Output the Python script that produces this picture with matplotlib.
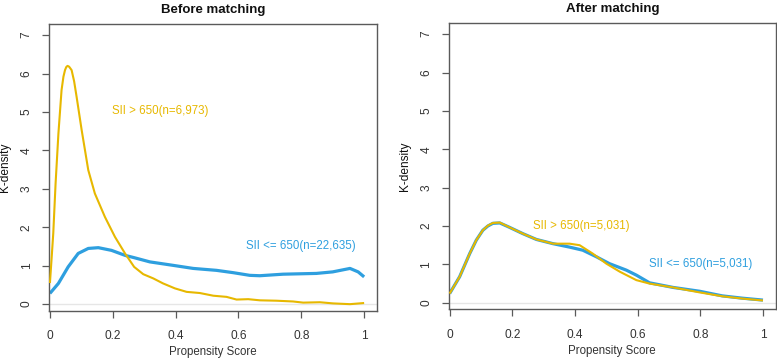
import matplotlib
matplotlib.use("Agg")
import matplotlib.pyplot as plt

plt.rcParams['font.family'] = ['Liberation Sans', 'DejaVu Sans']

YEL = "#E7B800"
BLU = "#2E9FDF"

# ---- Before matching ----
before_hi_x = [0.0, 0.005, 0.0106, 0.018, 0.027, 0.037, 0.043, 0.048, 0.052, 0.056, 0.061,
               0.069, 0.077, 0.085, 0.101, 0.122, 0.143, 0.175, 0.207, 0.239, 0.268,
               0.297, 0.329, 0.36, 0.398, 0.435, 0.477, 0.52, 0.562, 0.594, 0.631, 0.668,
               0.721, 0.774, 0.806, 0.859, 0.901, 0.955, 1.0]
before_hi_y = [0.55, 1.15, 1.84, 3.14, 4.44, 5.57, 5.92, 6.09, 6.17, 6.2, 6.18,
               6.09, 5.8, 5.39, 4.53, 3.49, 2.88, 2.27, 1.75, 1.32, 0.97,
               0.78, 0.67, 0.54, 0.41, 0.32, 0.29, 0.22, 0.19, 0.12, 0.13, 0.10,
               0.09, 0.07, 0.04, 0.05, 0.02, 0.0, 0.03]

before_lo_x = [0.0, 0.027, 0.058, 0.09, 0.122, 0.154, 0.196, 0.239, 0.268, 0.318, 0.392,
               0.456, 0.53, 0.583, 0.636, 0.668, 0.742, 0.848, 0.90, 0.955, 0.981, 1.0]
before_lo_y = [0.28, 0.54, 0.97, 1.32, 1.45, 1.47, 1.40, 1.27, 1.21, 1.10, 1.01,
               0.93, 0.88, 0.82, 0.75, 0.74, 0.78, 0.80, 0.84, 0.93, 0.84, 0.71]

# ---- After matching ----
after_hi_x = [0.0, 0.032, 0.064, 0.085, 0.106, 0.122, 0.138, 0.16, 0.19, 0.234, 0.277, 0.33,
              0.383, 0.415, 0.457, 0.5, 0.543, 0.596, 0.638, 0.713, 0.798, 0.87, 0.934, 1.0]
after_hi_y = [0.24, 0.68, 1.28, 1.63, 1.89, 2.01, 2.08, 2.09, 1.97, 1.80, 1.65, 1.54,
              1.54, 1.50, 1.28, 1.02, 0.81, 0.59, 0.50, 0.40, 0.27, 0.17, 0.11, 0.06]

after_lo_x = [0.0, 0.032, 0.064, 0.085, 0.106, 0.122, 0.138, 0.16, 0.19, 0.234, 0.277, 0.33,
              0.383, 0.425, 0.468, 0.51, 0.564, 0.596, 0.638, 0.713, 0.798, 0.87, 0.934, 1.0]
after_lo_y = [0.24, 0.68, 1.28, 1.63, 1.89, 2.00, 2.07, 2.08, 1.97, 1.80, 1.65, 1.54,
              1.45, 1.37, 1.20, 1.02, 0.85, 0.72, 0.52, 0.40, 0.30, 0.18, 0.12, 0.07]

x_ticks = [0, 0.2, 0.4, 0.6, 0.8, 1]
x_ticklabels = ["0", "0.2", "0.4", "0.6", "0.8", "1"]
y_ticks = [0, 1, 2, 3, 4, 5, 6, 7]

W, H = 777, 360
fig = plt.figure(figsize=(W / 100, H / 100), dpi=100)

panels = [
    dict(rect=(49.3, 24.0, 376.7, 310.7), title="Before matching",
         hi=(before_hi_x, before_hi_y), lo=(before_lo_x, before_lo_y),
         hi_lab=("SII > 650(n=6,973)", 0.35, 5.02),
         lo_lab=("SII <= 650(n=22,635)", 0.80, 1.52)),
    dict(rect=(449.0, 23.0, 775.5, 309.3), title="After matching",
         hi=(after_hi_x, after_hi_y), lo=(after_lo_x, after_lo_y),
         hi_lab=("SII > 650(n=5,031)", 0.42, 2.01),
         lo_lab=("SII <= 650(n=5,031)", 0.80, 1.00)),
]

BOX = "#5a5a5a"
TXT = "#333333"

for p in panels:
    l, t, r, b = p["rect"]
    ax = fig.add_axes([l / W, 1 - b / H, (r - l) / W, (b - t) / H])
    ax.set_xlim(-0.002, 1.04)
    ax.set_ylim(-0.17, 7.29)
    ax.axhline(0, color="#e6e6e6", lw=1.0, zorder=1)
    ax.plot(*p["lo"], color=BLU, lw=2.3, zorder=2, solid_capstyle="butt", solid_joinstyle="round")
    ax.plot(*p["hi"], color=YEL, lw=1.5, zorder=3, solid_capstyle="butt", solid_joinstyle="round")
    s, x, y = p["hi_lab"]
    ax.text(x, y, s, color=YEL, fontsize=8.3, ha="center", va="center")
    s, x, y = p["lo_lab"]
    ax.text(x, y, s, color=BLU, fontsize=8.3, ha="center", va="center")
    ax.set_xticks(x_ticks)
    ax.set_xticklabels(x_ticklabels)
    ax.set_yticks(y_ticks)
    ax.set_yticklabels([str(v) for v in y_ticks], rotation=90, va="center")
    ax.tick_params(direction="out", length=5, width=0.9, color=BOX, labelcolor=TXT,
                   labelsize=8.6)
    ax.tick_params(axis="x", pad=9)
    ax.tick_params(axis="y", pad=7)
    for sp in ax.spines.values():
        sp.set_color(BOX)
        sp.set_linewidth(1.0)
    ax.set_title(p["title"], fontsize=9.5, fontweight="bold", color="#111111", pad=8)
    ax.set_xlabel("Propensity Score", fontsize=8.3, color=TXT, labelpad=3)
    ax.set_ylabel("K-density", fontsize=8.6, color="#111111", labelpad=7)

fig.savefig("out.png", dpi=100)
